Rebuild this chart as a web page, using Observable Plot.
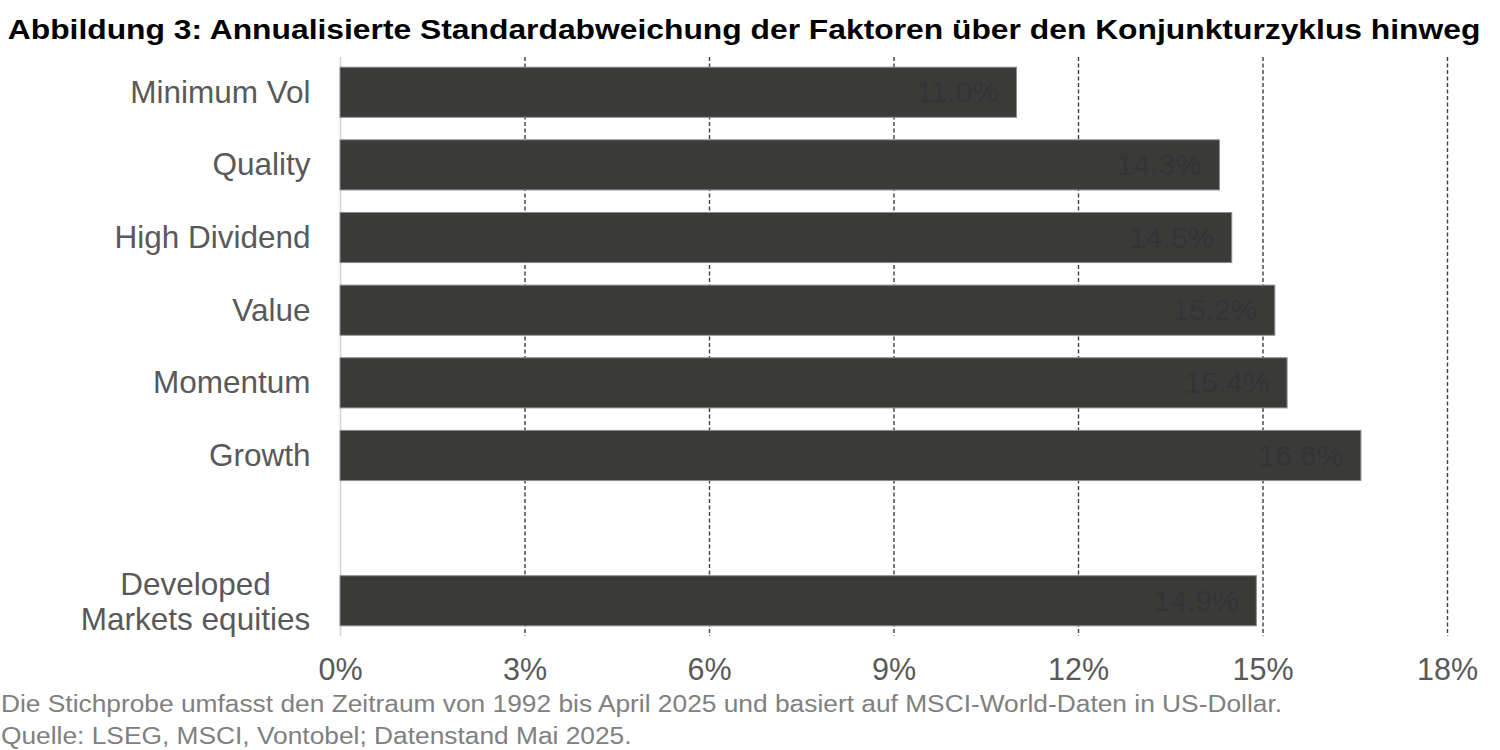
<!DOCTYPE html>
<html><head><meta charset="utf-8">
<script src="https://cdn.jsdelivr.net/npm/d3@7"></script>
<script src="https://cdn.jsdelivr.net/npm/@observablehq/plot@0.6"></script>
<style>
body{margin:0;background:#fff;font-family:"Liberation Sans",Arial,sans-serif;width:1500px;overflow:hidden;}
#title{height:54px;line-height:60px;font-weight:bold;font-size:27px;text-align:center;color:#000;white-space:nowrap;position:relative;left:-6px;}
#title span{display:inline-block;transform:scaleX(1.178);transform-origin:center;}
#chart svg{display:block;color:#595959;font-family:"Liberation Sans",Arial,sans-serif;}
#caption{font-size:23.5px;color:#808080;line-height:32px;margin-top:2px;padding-left:1px;white-space:nowrap;}
#caption span{display:inline-block;transform:scaleX(1.12);transform-origin:left center;}
</style></head><body>
<div id="title"><span>Abbildung 3: Annualisierte Standardabweichung der Faktoren über den Konjunkturzyklus hinweg</span></div>
<div id="chart"></div>
<div id="caption"><span>Die Stichprobe umfasst den Zeitraum von 1992 bis April 2025 und basiert auf MSCI-World-Daten in US-Dollar.</span><br><span>Quelle: LSEG, MSCI, Vontobel; Datenstand Mai 2025.</span></div>
<script>
const factorNames = ["Minimum Vol", "Quality", "High Dividend", "Value", "Momentum", "Growth"];
const factorValues = [11.0, 14.3, 14.5, 15.2, 15.4, 16.6];
const benchmarkName = "Developed\nMarkets equities";
const benchmarkValue = 14.9;
const spacer = " ";
const xTicks = [0, 3, 6, 9, 12, 15, 18];
const gridTicks = [3, 6, 9, 12, 15, 18];

const rows = factorNames.map((n, i) => ({name: n, value: factorValues[i]}))
  .concat([{name: benchmarkName, value: benchmarkValue}]);
const yDomain = [...factorNames, spacer, benchmarkName];

const chart = Plot.plot({
  width: 1500,
  height: 632,
  marginLeft: 340,
  marginRight: 53,
  marginTop: 3,
  marginBottom: 50,
  x: {domain: [0, 18], axis: null},
  y: {domain: yDomain, paddingInner: 0.31, paddingOuter: 0.14, round: false, axis: null},
  marks: [
    Plot.ruleX(gridTicks, {stroke: "#3f3f3f", strokeWidth: 1.4, strokeDasharray: "4,2.5"}),
    Plot.ruleX([0], {stroke: "#d4d4d4", strokeWidth: 1.5}),
    Plot.barX(rows, {x: "value", y: "name", fill: "#3a3b39", stroke: "#8c8c8c", strokeWidth: 1}),
    Plot.text(rows, {x: "value", y: "name", text: d => d.value.toFixed(1) + "%", textAnchor: "end", dx: -18, fill: "#343434", fontSize: 30}),
    Plot.axisY(factorNames, {label: null, tickSize: 0, tickPadding: 30, fontSize: 31.5}),
    Plot.axisY([benchmarkName], {label: null, tickSize: 0, tickPadding: 30, fontSize: 31.5, textAnchor: "middle", dx: -115, lineHeight: 1.12}),
    Plot.axisX(xTicks, {label: null, tickSize: 0, tickPadding: 22, fontSize: 30.5, tickFormat: d => d + "%"})
  ]
});
document.getElementById("chart").appendChild(chart);
</script>
</body></html>
